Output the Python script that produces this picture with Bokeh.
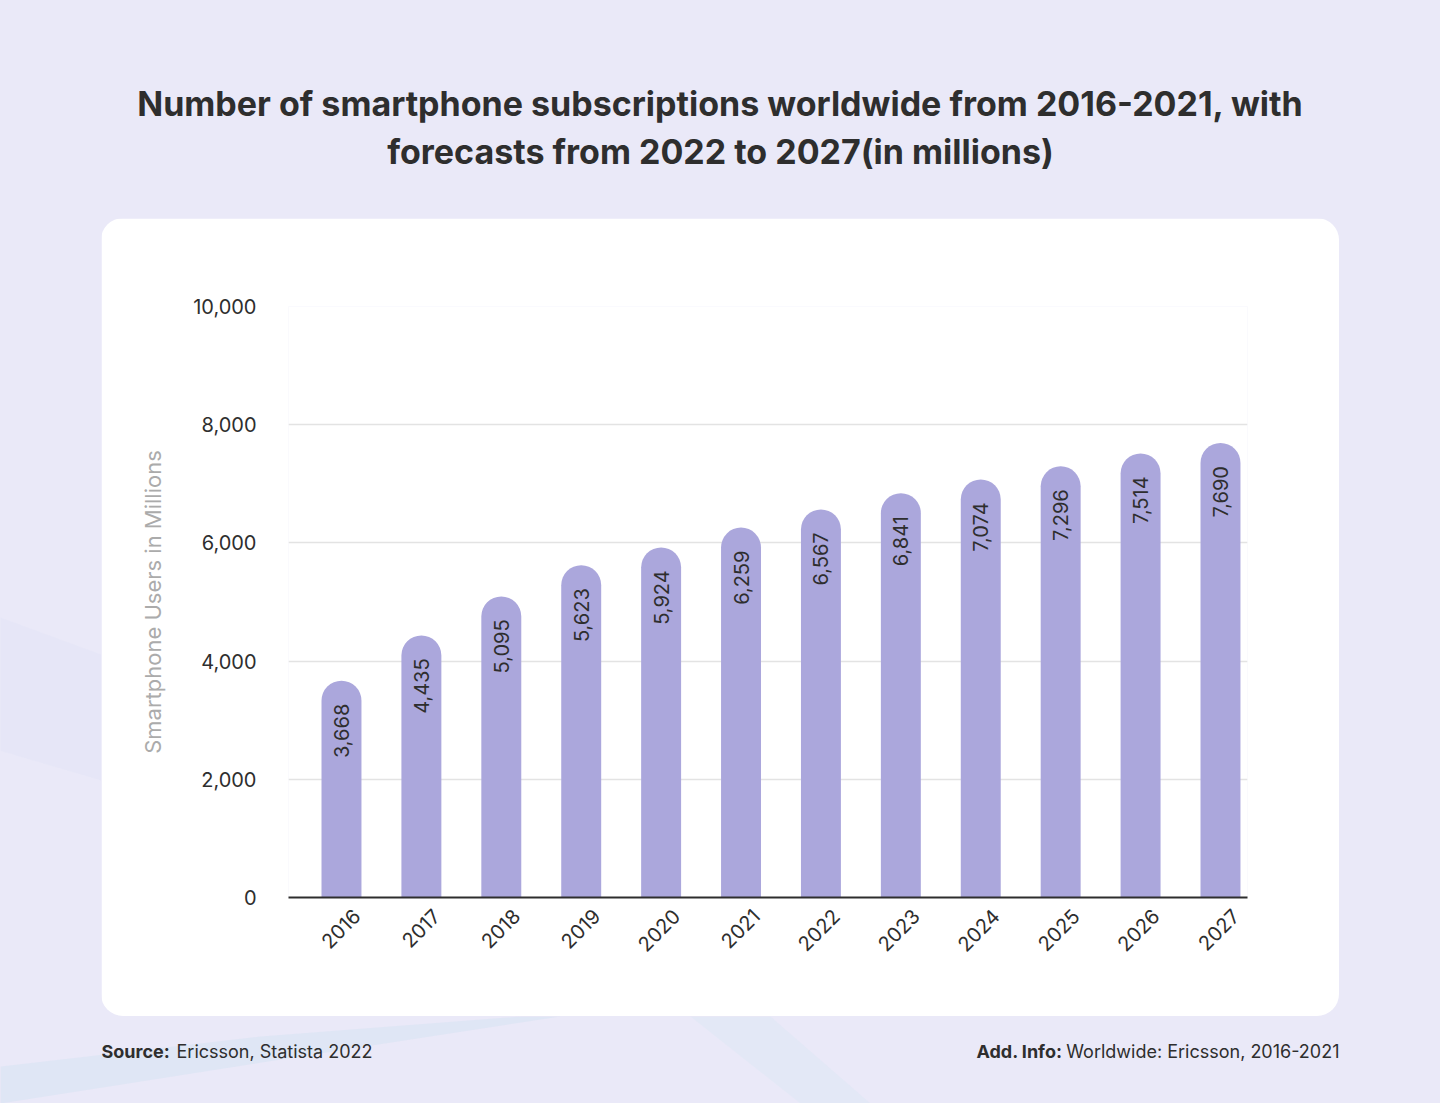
import math
from bokeh.plotting import figure
from bokeh.layouts import column, row
from bokeh.models import Range1d, FixedTicker, NumeralTickFormatter, LinearAxis
from bokeh.core.properties import value
from bokeh.embed import file_html
from bokeh.resources import INLINE

# ---------------- data ----------------
years = ["2016", "2017", "2018", "2019", "2020", "2021",
         "2022", "2023", "2024", "2025", "2026", "2027"]
users = [3668, 4435, 5095, 5623, 5924, 6259, 6567, 6841, 7074, 7296, 7514, 7690]
y_ticks = [0, 2000, 4000, 6000, 8000, 10000]
title_lines = ["Number of smartphone subscriptions worldwide from 2016-2021, with",
               "forecasts from 2022 to 2027(in millions)"]
y_label = "Smartphone Users in Millions"
source_bold, source_text = "Source:", "Ericsson, Statista 2022"
info_bold, info_text = "Add. Info:", "Worldwide: Ericsson, 2016-2021"

# ---------------- style ----------------
FONT = "Inter"
BG = "#eae9f8"
BAR = "#aba7dc"
DARK = "#2e2e2e"

PAGE_W, PAGE_H = 1440, 1103
CARD_L, CARD_R, CARD_T, CARD_B = 101, 1339, 218, 1016
FRAME_L, FRAME_R, FRAME_T, FRAME_B = 288, 1247, 306, 897
X_START, X_END = -0.663, 11.338
LABEL_SHIFT = 0.19   # moves the rotated year labels slightly right of the bar centre

idx = list(range(len(years)))
labels = [f"{v:,}" for v in users]


def blank_fig(w, h):
    f = figure(width=w, height=h, output_backend="svg", toolbar_location=None,
               title=None, x_axis_type=None, y_axis_type=None,
               x_range=Range1d(0, w), y_range=Range1d(h, 0),
               min_border=0, min_border_left=0, min_border_right=0,
               min_border_top=0, min_border_bottom=0,
               background_fill_color=BG, border_fill_color=BG,
               outline_line_color=None)
    f.grid.visible = False
    return f


# ---------------- header ----------------
header = blank_fig(PAGE_W, CARD_T)
header.text(x=[720, 720], y=[103, 151], text=title_lines, text_align="center",
            text_baseline="middle", text_font=value(FONT), text_font_size="34px",
            text_font_style="bold", text_color=DARK)

# ---------------- chart card ----------------
card_w, card_h = CARD_R - CARD_L, CARD_B - CARD_T
p = figure(width=card_w, height=card_h, output_backend="svg",
           toolbar_location=None, title=None, x_axis_location=None,
           x_range=Range1d(X_START, X_END), y_range=Range1d(0, 10000),
           min_border_left=FRAME_L - CARD_L, min_border_right=CARD_R - FRAME_R,
           min_border_top=FRAME_T - CARD_T, min_border_bottom=CARD_B - FRAME_B,
           background_fill_color="white", border_fill_color="white",
           outline_line_color=None,
           styles={"border-radius": "22px", "overflow": "hidden"})

p.extra_x_ranges = {"lbl": Range1d(X_START - LABEL_SHIFT, X_END - LABEL_SHIFT)}

p.vbar(x=idx, top=users, bottom=0, width=0.5, fill_color=BAR, line_color=None,
       border_radius=(20, 20, 0, 0))

p.text(x=idx, y=users, text=labels, angle=math.pi / 2, text_align="right",
       text_baseline="middle", y_offset=23, text_font=value(FONT),
       text_font_size="20px", text_color=DARK)

xaxis = LinearAxis(x_range_name="lbl")
xaxis.ticker = FixedTicker(ticks=idx)
xaxis.major_label_overrides = {i: y for i, y in zip(idx, years)}
xaxis.major_label_orientation = math.pi / 4
xaxis.axis_line_color = DARK
xaxis.axis_line_width = 2
xaxis.major_tick_line_color = None
xaxis.minor_tick_line_color = None
xaxis.major_label_text_font = FONT
xaxis.major_label_text_font_size = "20px"
xaxis.major_label_text_color = DARK
xaxis.major_label_standoff = 9
p.add_layout(xaxis, "below")

p.yaxis.ticker = FixedTicker(ticks=y_ticks)
p.yaxis.formatter = NumeralTickFormatter(format="0,0")
p.yaxis.axis_line_color = None
p.yaxis.major_tick_line_color = None
p.yaxis.minor_tick_line_color = None
p.yaxis.major_label_text_font = FONT
p.yaxis.major_label_text_font_size = "20px"
p.yaxis.major_label_text_color = DARK
p.yaxis.major_label_standoff = 26
p.yaxis.axis_label = y_label
p.yaxis.axis_label_text_font = FONT
p.yaxis.axis_label_text_font_size = "22px"
p.yaxis.axis_label_text_font_style = "normal"
p.yaxis.axis_label_text_color = "#ababab"
p.yaxis.axis_label_standoff = 24

p.xgrid.visible = False
p.ygrid.ticker = FixedTicker(ticks=y_ticks)
p.ygrid.grid_line_color = "#e3e3e3"
p.ygrid.grid_line_width = 1.5

# ---------------- side margins ----------------
left_fig = blank_fig(CARD_L, card_h)
left_fig.patch(x=[0, CARD_L, CARD_L, 0], y=[420, 470, 640, 600],
               fill_color="#dfe3f5", fill_alpha=0.35, line_color=None)
right_fig = blank_fig(PAGE_W - CARD_R, card_h)

# ---------------- footer ----------------
foot_h = PAGE_H - CARD_B
footer = blank_fig(PAGE_W, foot_h)
footer.patch(x=[0, 0, 260, 520, 560, 300], y=[foot_h, 50, 20, 0, 0, 40],
             fill_color="#d3e2f2", fill_alpha=0.45, line_color=None)
footer.patch(x=[690, 770, 870, 800], y=[0, 0, foot_h, foot_h],
             fill_color="#dbe6f4", fill_alpha=0.45, line_color=None)
fy = 1051 - CARD_B
foot_style = dict(text_baseline="middle", text_font=value(FONT),
                  text_font_size="18px", text_color=DARK)
footer.text(x=[101], y=[fy], text=[source_bold], text_align="left",
            text_font_style="bold", **foot_style)
footer.text(x=[176], y=[fy], text=[source_text], text_align="left", **foot_style)
footer.text(x=[1339], y=[fy], text=[info_text], text_align="right", **foot_style)
footer.text(x=[1062], y=[fy], text=[info_bold], text_align="right",
            text_font_style="bold", **foot_style)

layout = column(header, row(left_fig, p, right_fig, spacing=0), footer, spacing=0,
                styles={"background-color": BG})

html = file_html(layout, INLINE)
html = html.replace("<head>", "<head><style>html,body{background:%s;margin:0;}</style>" % BG, 1)
with open("out.html", "w") as f:
    f.write(html)
